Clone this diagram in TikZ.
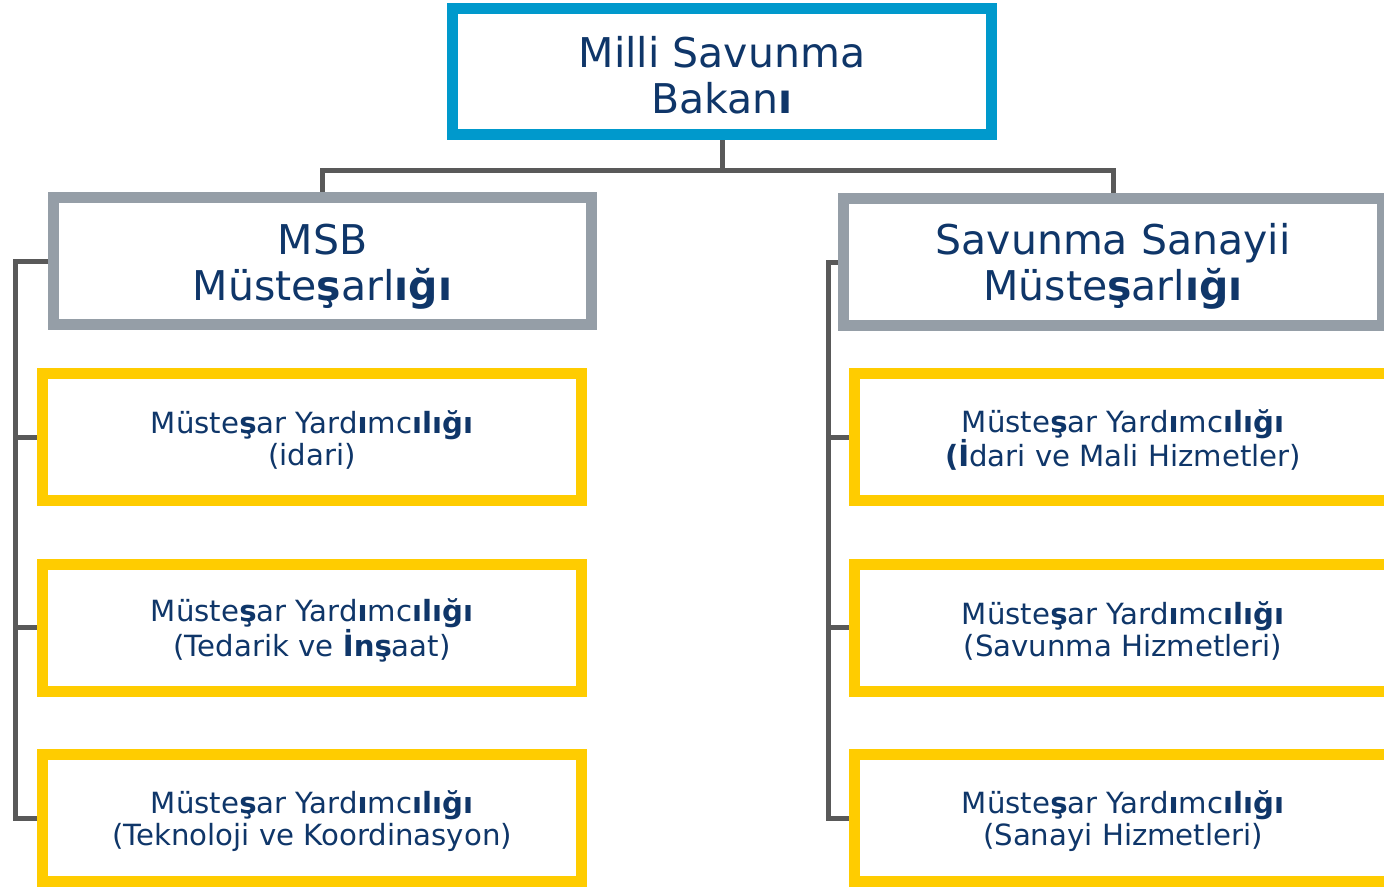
\documentclass[tikz,border=0pt]{standalone}
\usepackage{fontspec}
\setmainfont{DejaVu Sans}
\definecolor{topblue}{HTML}{0099CC}
\definecolor{boxgray}{HTML}{959EA7}
\definecolor{boxyellow}{HTML}{FFCC00}
\definecolor{connc}{HTML}{595959}
\definecolor{txt}{HTML}{0F3669}
\tikzset{
  box/.style={draw, rectangle, line width=11pt, fill=white, inner sep=0pt},
  bigtext/.style={align=center, text=txt, inner sep=0pt, yshift=-4pt, font=\fontsize{41}{46}\selectfont},
  smalltext/.style={align=center, text=txt, inner sep=0pt, yshift=-3pt, font=\fontsize{29.2}{32}\selectfont},
  ybox/.style={box, draw=boxyellow, minimum height=127pt},
  conn/.style={draw=connc, line width=5pt}
}
\begin{document}
\begin{tikzpicture}[x=1pt,y=-1pt]
\useasboundingbox (0,0) rectangle (1384,887);
\fill[white] (0,0) rectangle (1384,887);
\node[box, draw=topblue, minimum width=539pt, minimum height=126pt] (top) at (722,71.5) {};
\node[bigtext] (topt) at (top) {Milli Savunma\\Bakan\textbf{ı}};
\node[box, draw=boxgray, minimum width=538pt, minimum height=127pt] (msb) at (322.5,261) {};
\node[bigtext, yshift=-2pt] (msbt) at (msb) {MSB\\Müste\textbf{ş}arl\textbf{ığı}};
\node[box, draw=boxgray, minimum width=539pt, minimum height=127pt] (ssm) at (1113,262) {};
\node[bigtext] (ssmt) at (ssm) {Savunma Sanayii\\Müste\textbf{ş}arl\textbf{ığı}};
\node[ybox, minimum width=539pt] (l1) at (312,437) {};
\node[smalltext] (l1t) at (l1) {Müste\textbf{ş}ar Yard\textbf{ı}mc\textbf{ılığı}\\(idari)};
\node[ybox, minimum width=539pt] (l2) at (312,627.5) {};
\node[smalltext] (l2t) at (l2) {Müste\textbf{ş}ar Yard\textbf{ı}mc\textbf{ılığı}\\(Tedarik ve \textbf{İnş}aat)};
\node[ybox, minimum width=539pt] (l3) at (312,818) {};
\node[smalltext] (l3t) at (l3) {Müste\textbf{ş}ar Yard\textbf{ı}mc\textbf{ılığı}\\(Teknoloji ve Koordinasyon)};
\node[ybox, minimum width=537pt] (r1) at (1123,437) {};
\node[smalltext] (r1t) at (r1) {Müste\textbf{ş}ar Yard\textbf{ı}mc\textbf{ılığı}\\\textbf{(İ}dari ve Mali Hizmetler)};
\node[ybox, minimum width=537pt] (r2) at (1123,627.5) {};
\node[smalltext] (r2t) at (r2) {Müste\textbf{ş}ar Yard\textbf{ı}mc\textbf{ılığı}\\(Savunma Hizmetleri)};
\node[ybox, minimum width=537pt] (r3) at (1123,818) {};
\node[smalltext] (r3t) at (r3) {Müste\textbf{ş}ar Yard\textbf{ı}mc\textbf{ılığı}\\(Sanayi Hizmetleri)};
\coordinate (j) at (722,170);
\coordinate (lx) at (15,0);
\coordinate (rx) at (828,0);
\draw[conn] (top.south) -- (j) -| (msb.north);
\draw[conn] (j) -| (ssm.north);
\draw[conn] (msb.west) -- (msb.west -| lx) |- (l3.west);
\draw[conn] (l1.west -| lx) -- (l1.west);
\draw[conn] (l2.west -| lx) -- (l2.west);
\draw[conn] (ssm.west) -- (ssm.west -| rx) |- (r3.west);
\draw[conn] (r1.west -| rx) -- (r1.west);
\draw[conn] (r2.west -| rx) -- (r2.west);
\end{tikzpicture}
\end{document}
